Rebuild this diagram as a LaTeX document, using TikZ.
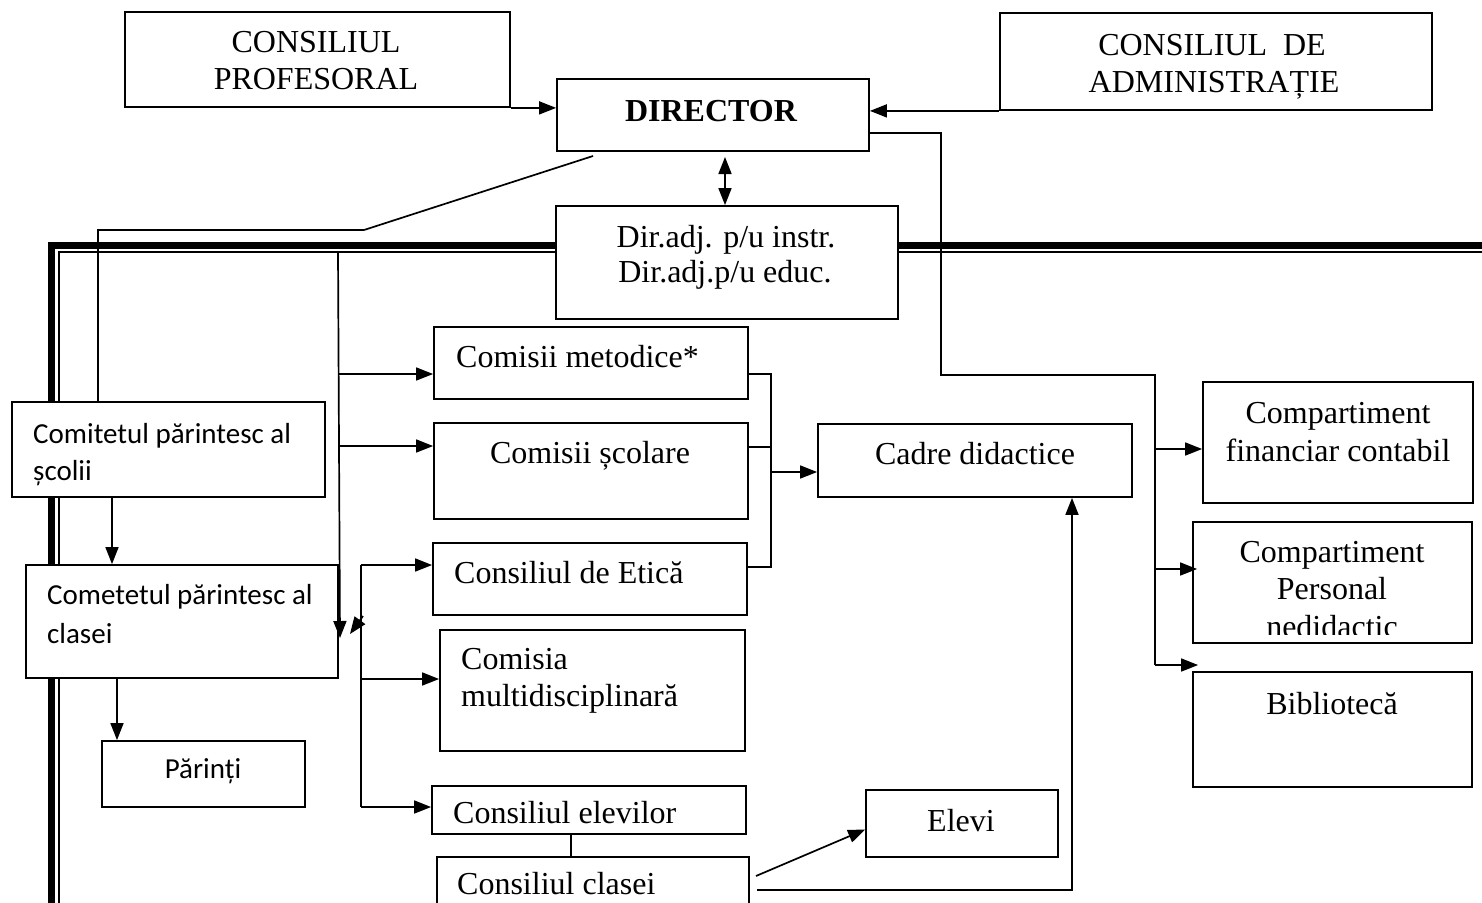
\documentclass[tikz,border=0pt]{standalone}
\usepackage{fontspec}
\setmainfont{Liberation Serif}
\newfontfamily\calfont{Carlito}
\usetikzlibrary{arrows.meta,fit}
\begin{document}
\begin{tikzpicture}[x=1pt,y=-1pt,
  box/.style={draw, fill=white, line width=1.8pt, inner sep=0pt},
  conn/.style={line width=1.7pt},
  arr/.style={conn, -{Triangle[length=17pt,width=13pt]}},
  darr/.style={conn, {Triangle[length=17pt,width=13pt]}-{Triangle[length=17pt,width=13pt]}},
  serif/.style={font=\fontsize{32}{38}\selectfont, inner sep=0pt},
  sans/.style={font=\calfont\fontsize{29}{38}\selectfont, inner sep=0pt},
]
\clip (0,0) rectangle (1482,902);
\fill[white] (0,0) rectangle (1482,902);

% frame (double line)
\draw[line width=7pt] (556,245) -- (51,245) -- (51,920);
\draw[line width=1.8pt] (556,252) -- (59,252) -- (59,920);
\draw[line width=7pt] (898,245) -- (1490,245);
\draw[line width=1.8pt] (898,252) -- (1490,252);

% boxes
\node[box, fit={(125,12) (510,107)}] (cp) {};
\node[box, fit={(557,79) (869,151)}] (dir) {};
\node[box, fit={(1000,13) (1432,110)}] (cda) {};
\node[box, fit={(556,206) (898,319)}] (adj) {};

\node[box, fit={(12,402) (325,497)}] (cs) {};
\node[box, fit={(26,565) (338,678)}] (cc) {};
\node[box, fit={(102,741) (305,807)}] (par) {};

\node[box, fit={(434,327) (748,399)}] (met) {};
\node[box, fit={(434,423) (748,519)}] (sco) {};
\node[box, fit={(433,543) (747,615)}] (eti) {};
\node[box, fit={(440,630) (745,751)}] (mul) {};
\node[box, fit={(432,786) (746,834)}] (elv) {};
\node[box, fit={(437,857) (749,920)}] (cls) {};
\node[box, fit={(818,424) (1132,497)}] (cad) {};
\node[box, fit={(866,790) (1058,857)}] (elevi) {};

\node[box, fit={(1203,382) (1473,503)}] (fin) {};
\node[box, fit={(1193,522) (1472,643)}] (pers) {};
\node[box, fit={(1193,672) (1472,787)}] (bib) {};

% texts
\node[serif, anchor=base] (tcp1) at (316,52) {CONSILIUL};
\node[serif, anchor=base] (tcp2) at (316,89) {PROFESORAL};
\node[serif, anchor=base, font=\fontsize{32}{38}\selectfont\bfseries] (tdir) at (711,121) {DIRECTOR};
\node[serif, anchor=base] (tcda1) at (1212,55) {CONSILIUL\ \ DE};
\node[serif, anchor=base] (tcda2) at (1214,92) {ADMINISTRAȚIE};
\node[serif, anchor=base] (tadj1) at (726,247) {Dir.adj. p/u instr.};
\node[serif, anchor=base] (tadj2) at (725,282) {Dir.adj.p/u educ.};

\node[sans, anchor=base west] (tcs1) at (33,443) {Comitetul părintesc al};
\node[sans, anchor=base west] (tcs2) at (33,480) {școlii};
\node[sans, anchor=base west] (tcc1) at (47,604) {Cometetul părintesc al};
\node[sans, anchor=base west] (tcc2) at (47,643) {clasei};
\node[sans, anchor=base] (tpar) at (203,778) {Părinți};

\node[serif, anchor=base west] (tmet) at (456,367) {Comisii metodice*};
\node[serif, anchor=base] (tsco) at (590,463) {Comisii școlare};
\node[serif, anchor=base west] (teti) at (454,583) {Consiliul de Etică};
\node[serif, anchor=base west] (tmul1) at (461,669) {Comisia};
\node[serif, anchor=base west] (tmul2) at (461,706) {multidisciplinară};
\node[serif, anchor=base west] (telv) at (453,823) {Consiliul elevilor};
\node[serif, anchor=base west] (tcls) at (457,894) {Consiliul clasei};
\node[serif, anchor=base] (tcad) at (975,464) {Cadre didactice};
\node[serif, anchor=base] (televi) at (961,831) {Elevi};

\node[serif, anchor=base] (tfin1) at (1338,423) {Compartiment};
\node[serif, anchor=base] (tfin2) at (1338,461) {financiar contabil};
\node[serif, anchor=base] (tpers1) at (1332,562) {Compartiment};
\node[serif, anchor=base] (tpers2) at (1332,599) {Personal};
\begin{scope}
\clip (1195,600) rectangle (1470,634);
\node[serif, anchor=base] (tpers3) at (1332,637) {nedidactic};
\end{scope}
\node[serif, anchor=base] (tbib) at (1332,714) {Bibliotecă};

% connectors: top
\draw[arr] (cp.south east) -- (cp.south east -| dir.west);
\draw[arr] (cda.south west) -- (cda.south west -| dir.east);
\coordinate (da) at (725,157);
\draw[darr] (da) -- (da |- adj.north);

% director diagonal to school parents committee
\coordinate (dg) at (593,156);
\coordinate (dg2) at (364,230);
\coordinate (k98) at (98,230);
\draw[conn] (dg) -- (dg2) -- (k98) -- (k98 |- cs.north);

% director to right bus
\coordinate (r1) at (941,133);
\coordinate (r2) at (941,375);
\coordinate (r3) at (1155,375);
\coordinate (r4) at (1155,665);
\coordinate (r5) at (1155,449);
\coordinate (r6) at (1155,569);
\draw[conn] (dir.east |- r1) -- (r1) -- (r2) -- (r3) -- (r4);
\draw[arr] (r4) -- ([xshift=6pt]r4 -| bib.west);
\draw[arr] (r5) -- (r5 -| fin.west);
\draw[arr] (r6) -- ([xshift=5pt]r6 -| pers.west);

% left vertical bus x=338
\coordinate (b0) at (338,252);
\coordinate (b1) at (338,374);
\coordinate (b2) at (338,446);
\coordinate (b3) at (340,638);
\draw[arr] (b0) -- (b3);
\draw[arr] (b1) -- (b1 -| met.west);
\draw[arr] (b2) -- (b2 -| sco.west);

% parents chain
\coordinate (k112) at (112,0);
\coordinate (k117) at (117,0);
\draw[arr] (cs.south -| k112) -- (cc.north -| k112);
\draw[arr] (cc.south -| k117) -- (par.north -| k117);

% second bus x=361
\coordinate (c1) at (361,565);
\coordinate (c2) at (361,679);
\coordinate (c3) at (361,807);
\coordinate (c4) at (363,616);
\coordinate (c5) at (350,634);
\draw[conn] (c1) -- (c3);
\draw[arr] (c1) -- (c1 -| eti.west);
\draw[arr] (c2) -- (c2 -| mul.west);
\draw[arr] (c3) -- (c3 -| elv.west);
\draw[arr] (c4) -- (c5);

% collector to Cadre didactice
\coordinate (m1) at (771,374);
\coordinate (m2) at (771,447);
\coordinate (m3) at (771,567);
\coordinate (m4) at (771,472);
\draw[conn] (m1 -| met.east) -- (m1) -- (m3) -- (m3 -| eti.east);
\draw[conn] (m2 -| sco.east) -- (m2);
\draw[arr] (m4) -- (m4 -| cad.west);

% bottom
\coordinate (e0) at (571,0);
\draw[conn] (elv.south -| e0) -- (cls.north -| e0);
\coordinate (q1) at (756,876);
\draw[arr] (q1) -- ([yshift=-6pt]elevi.west);
\coordinate (z1) at (757,890);
\coordinate (z2) at (1072,890);
\draw[arr] (z1) -- (z2) -- (z2 |- cad.south);
\end{tikzpicture}
\end{document}
